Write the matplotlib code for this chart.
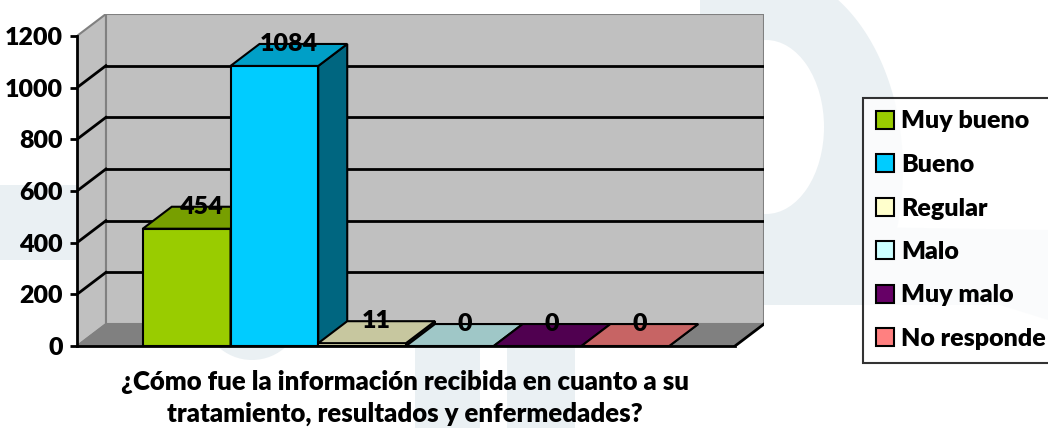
import numpy as np
import matplotlib.pyplot as plt
from matplotlib.patches import Polygon, Rectangle, Ellipse, Circle

plt.rcParams['font.family'] = ['Lato', 'DejaVu Sans']

categories = ['Muy bueno', 'Bueno', 'Regular', 'Malo', 'Muy malo', 'No responde']
values = [454, 1084, 11, 0, 0, 0]
colors = ['#99cc00', '#00ccff', '#ffffcc', '#ccffff', '#660066', '#ff8080']
yticks = [0, 200, 400, 600, 800, 1000, 1200]
xtitle = '¿Cómo fue la información recibida en cuanto a su\ntratamiento, resultados y enfermedades?'

FW = 800  # heavy weight, closest to the bold look
FS = 18


def shade(c, f):
    r, g, b = plt.matplotlib.colors.to_rgb(c)
    return (r * f, g * f, b * f)


W, H = 1048, 428
fig = plt.figure(figsize=(W / 100, H / 100), dpi=100)

# faint watermark behind the chart
bg = fig.add_axes([0, 0, 1, 1], zorder=-5)
bg.set_xlim(0, W)
bg.set_ylim(H, 0)
bg.axis('off')
wm = '#eaf0f3'
bg.add_patch(Rectangle((0, 185), 76, 75, color=wm, lw=0))
bg.add_patch(Rectangle((415, 300), 65, 130, color=wm, lw=0))
bg.add_patch(Rectangle((507, 300), 68, 130, color=wm, lw=0))
bg.add_patch(Circle((252, 310), 50, color=wm, lw=0))
t = np.linspace(-np.pi / 2, np.pi / 2, 200)
ex = 766 + 137 * np.cos(t)
ey = 170 + 200 * np.sin(t)
keep = ey <= 230
outer = np.column_stack([ex[keep], ey[keep]])
outer = np.vstack([[700, -40], outer, [1048, 230], [1048, 320], [1000, 305], [700, 305]])
bg.add_patch(Polygon(outer, closed=True, color=wm, lw=0))
bg.add_patch(Ellipse((766, 127), 116, 174, color='white', lw=0))

# pseudo-3D chart in bar-width units
floor_w = 7.5
x0 = 0.75
dx = 0.33
dy = 85.0
ymax = 1200

ax = fig.add_axes([77 / W, 82 / H, 687 / W, 332 / H])
ax.set_xlim(0, floor_w + dx)
ax.set_ylim(0, ymax + dy)
ax.patch.set_visible(False)

wall = '#c0c0c0'
edge = '#808080'
ax.add_patch(Polygon([(dx, dy), (floor_w + dx, dy), (floor_w + dx, ymax + dy), (dx, ymax + dy)],
                     closed=True, fc=wall, ec=edge, lw=1.5, zorder=0))
ax.add_patch(Polygon([(0, 0), (dx, dy), (dx, ymax + dy), (0, ymax)],
                     closed=True, fc=wall, ec=edge, lw=1.5, zorder=0))
ax.add_patch(Polygon([(0, 0), (floor_w, 0), (floor_w + dx, dy), (dx, dy)],
                     closed=True, fc='#808080', ec=edge, lw=1, zorder=0.5))
ax.plot([floor_w, floor_w + dx], [0, dy], color='black', lw=2, zorder=1)

for v in yticks[1:-1]:
    ax.plot([dx, floor_w + dx], [v + dy, v + dy], color='black', lw=2, zorder=1)
    ax.plot([0, dx], [v, v + dy], color='black', lw=2, zorder=1)

for i, (v, c) in enumerate(zip(values, colors)):
    x = x0 + i
    z = 2 + i
    ax.bar(x, v, width=1, align='edge', color=c, edgecolor='black', lw=1.5, zorder=z)
    ax.add_patch(Polygon([(x + 1, 0), (x + 1 + dx, dy), (x + 1 + dx, v + dy), (x + 1, v)],
                         closed=True, fc=shade(c, 0.5), ec='black', lw=1.5, zorder=z))
    ax.add_patch(Polygon([(x, v), (x + 1, v), (x + 1 + dx, v + dy), (x + dx, v + dy)],
                         closed=True, fc=shade(c, 0.78), ec='black', lw=1.5, zorder=z))
    ax.text(x + 0.5 + dx / 2, v + dy, str(v), ha='center', va='center',
            fontsize=FS, fontweight=FW, zorder=20)

for s in ['top', 'right']:
    ax.spines[s].set_visible(False)
ax.spines['left'].set_bounds(0, ymax)
ax.spines['bottom'].set_bounds(0, floor_w)
ax.spines['left'].set_linewidth(2)
ax.spines['bottom'].set_linewidth(2)
ax.spines['left'].set_zorder(15)
ax.spines['bottom'].set_zorder(15)
ax.set_xticks([])
ax.set_yticks(yticks)
ax.tick_params(axis='y', length=5, width=2, labelsize=FS, pad=5)
for lab in ax.get_yticklabels():
    lab.set_fontweight(FW)

fig.text(405 / W, (H - 398) / H, xtitle, ha='center', va='center', fontsize=18.5,
         fontweight=FW, linespacing=1.4, multialignment='center')

handles = [Rectangle((0, 0), 1, 1, fc=c, ec='black', lw=1.5) for c in colors]
leg = fig.legend(handles, categories, loc='upper left', bbox_to_anchor=(863 / W, 1 - 98 / H),
                 frameon=True, fancybox=False, edgecolor='black', fontsize=FS,
                 handlelength=0.72, handleheight=0.72, handletextpad=0.3,
                 labelspacing=0.86, borderpad=0.5, borderaxespad=0)
leg.get_frame().set_linewidth(1.5)
for txt in leg.get_texts():
    txt.set_fontweight(FW)

fig.savefig('out.png', dpi=100)
